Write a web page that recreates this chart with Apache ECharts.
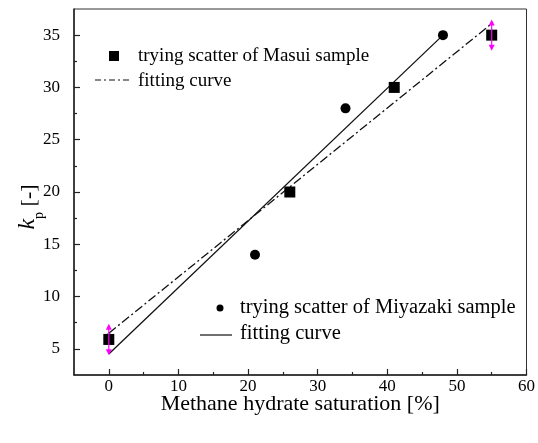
<!DOCTYPE html>
<html><head><meta charset="utf-8">
<script src="https://cdn.jsdelivr.net/npm/echarts@6/dist/echarts.min.js"></script>
<style>html,body{margin:0;padding:0;background:#fff}#c{width:538px;height:443px}</style>
</head><body><div id="c"></div>
<script>
// ---- data ----
var masuiPoints = [[0, 5.9], [26, 20], [41, 30], [55, 35]];
var miyazakiPoints = [[0, 6], [21, 14], [34, 28], [48, 35]];
var masuiFit = [[0, 6.5], [55, 36.1]];
var miyazakiFit = [[0, 4.5], [48, 35]];
var masuiErrors = [[0, 5.9, 1.5], [55, 35, 1.5]]; // x, y, half-range
var xTickLabels = [0, 10, 20, 30, 40, 50, 60];
var xMinorTicks = [5, 15, 25, 35, 45, 55];
var yTickLabels = [5, 10, 15, 20, 25, 30, 35];
var yMinorTicks = [7.5, 12.5, 17.5, 22.5, 27.5, 32.5];
var legendTexts = ['trying scatter of Masui sample', 'fitting curve', 'trying scatter of Miyazaki sample', 'fitting curve'];
var xTitle = 'Methane hydrate saturation [%]';

var FONT = '"Liberation Serif", "Times New Roman", serif';
var chart = echarts.init(document.getElementById('c'), null, {renderer: 'canvas'});

var grid = {left: 74, right: 11, top: 9, bottom: 68, show: true, borderColor: '#333', borderWidth: 1, containLabel: false};

var baseX = {type: 'value', min: -5, max: 60, gridIndex: 0, splitLine: {show: false}};
var baseY = {type: 'value', min: 2.5, max: 37.5, gridIndex: 0, splitLine: {show: false}};

var option = {
  animation: false,
  backgroundColor: '#fff',
  grid: grid,
  xAxis: [
    Object.assign({}, baseX, {
      position: 'bottom',
      name: xTitle, nameLocation: 'middle', nameGap: 18, nameMoveOverlap: false,
      nameTextStyle: {fontFamily: FONT, fontSize: 22, color: '#000', verticalAlign: 'top'},
      axisLine: {show: true, onZero: false, lineStyle: {color: '#222', width: 1.5}},
      axisTick: {show: true, inside: true, length: 6, customValues: xTickLabels, lineStyle: {color: '#222', width: 1.2}},
      axisLabel: {show: true, customValues: xTickLabels, margin: 3, fontFamily: FONT, fontSize: 17, color: '#000'}
    }),
    Object.assign({}, baseX, {
      position: 'bottom',
      axisLine: {show: false, onZero: false},
      axisTick: {show: true, inside: true, length: 3, customValues: xMinorTicks, lineStyle: {color: '#222', width: 1.2}},
      axisLabel: {show: false}
    })
  ],
  yAxis: [
    Object.assign({}, baseY, {
      position: 'left',
      name: '{k|k}{p|p}{t| [-]}', nameLocation: 'middle', nameGap: 34, nameRotate: 90, nameMoveOverlap: false,
      nameTextStyle: {
        fontFamily: FONT, color: '#000', fontSize: 22, padding: [0, 30, 0, 0],
        rich: {
          k: {fontFamily: FONT, fontStyle: 'italic', fontSize: 24, color: '#000', verticalAlign: 'bottom', lineHeight: 28},
          p: {fontFamily: FONT, fontSize: 14, color: '#000', verticalAlign: 'bottom', lineHeight: 20, padding: [0, 0, -6, 0]},
          t: {fontFamily: FONT, fontSize: 22, color: '#000', verticalAlign: 'bottom', lineHeight: 28}
        }
      },
      axisLine: {show: true, onZero: false, lineStyle: {color: '#222', width: 1.5}},
      axisTick: {show: true, inside: true, length: 6, customValues: yTickLabels, lineStyle: {color: '#222', width: 1.2}},
      axisLabel: {show: true, customValues: yTickLabels, margin: 14, fontFamily: FONT, fontSize: 17, color: '#000'}
    }),
    Object.assign({}, baseY, {
      position: 'left',
      axisLine: {show: false, onZero: false},
      axisTick: {show: true, inside: true, length: 3, customValues: yMinorTicks, lineStyle: {color: '#222', width: 1.2}},
      axisLabel: {show: false}
    })
  ],
  series: [
    {
      name: 'fit Masui', type: 'line', data: masuiFit, symbol: 'none', z: 2,
      lineStyle: {color: '#111', width: 1.3, type: [9, 3, 2, 3]}
    },
    {
      name: 'fit Miyazaki', type: 'line', data: miyazakiFit, symbol: 'none', z: 2,
      lineStyle: {color: '#111', width: 1.3, type: 'solid'}
    },
    {
      name: 'Miyazaki', type: 'scatter', data: miyazakiPoints, symbol: 'circle', symbolSize: 10, z: 3,
      itemStyle: {color: '#000', opacity: 1}
    },
    {
      name: 'Masui', type: 'scatter', data: masuiPoints, symbol: 'rect', symbolSize: 11, z: 4,
      itemStyle: {color: '#000', opacity: 1}
    },
    {
      name: 'Masui error', type: 'custom', data: masuiErrors, z: 5,
      renderItem: function (params, api) {
        var x = api.value(0), y = api.value(1), e = api.value(2);
        var top = api.coord([x, y + e]);
        var bot = api.coord([x, y - e]);
        var c = '#ff00ff';
        var ah = 6, aw = 3;
        return {
          type: 'group',
          children: [
            {type: 'line', shape: {x1: top[0], y1: top[1] + 2, x2: bot[0], y2: bot[1] - 2}, style: {stroke: c, lineWidth: 1.2}},
            {type: 'polygon', shape: {points: [[top[0], top[1]], [top[0] - aw, top[1] + ah], [top[0] + aw, top[1] + ah]]}, style: {fill: c}},
            {type: 'polygon', shape: {points: [[bot[0], bot[1]], [bot[0] - aw, bot[1] - ah], [bot[0] + aw, bot[1] - ah]]}, style: {fill: c}}
          ]
        };
      }
    }
  ],
  graphic: [
    {type: 'rect', shape: {x: 109, y: 51, width: 10, height: 10}, style: {fill: '#000'}},
    {type: 'text', x: 138, y: 56, style: {text: legendTexts[0], fontFamily: FONT, fontSize: 19, fill: '#000', verticalAlign: 'middle', textAlign: 'left'}},
    {type: 'line', shape: {x1: 95, y1: 80, x2: 132, y2: 80}, style: {stroke: '#111', lineWidth: 1.2, lineDash: [6, 3, 2, 3]}},
    {type: 'text', x: 138, y: 81, style: {text: legendTexts[1], fontFamily: FONT, fontSize: 19, fill: '#000', verticalAlign: 'middle', textAlign: 'left'}},
    {type: 'circle', shape: {cx: 220, cy: 308, r: 3.5}, style: {fill: '#000'}},
    {type: 'text', x: 240, y: 308, style: {text: legendTexts[2], fontFamily: FONT, fontSize: 20.5, fill: '#000', verticalAlign: 'middle', textAlign: 'left'}},
    {type: 'line', shape: {x1: 200, y1: 335, x2: 232, y2: 335}, style: {stroke: '#111', lineWidth: 1.2}},
    {type: 'text', x: 240, y: 334, style: {text: legendTexts[3], fontFamily: FONT, fontSize: 20.5, fill: '#000', verticalAlign: 'middle', textAlign: 'left'}}
  ]
};
chart.setOption(option);
</script>
</body></html>
